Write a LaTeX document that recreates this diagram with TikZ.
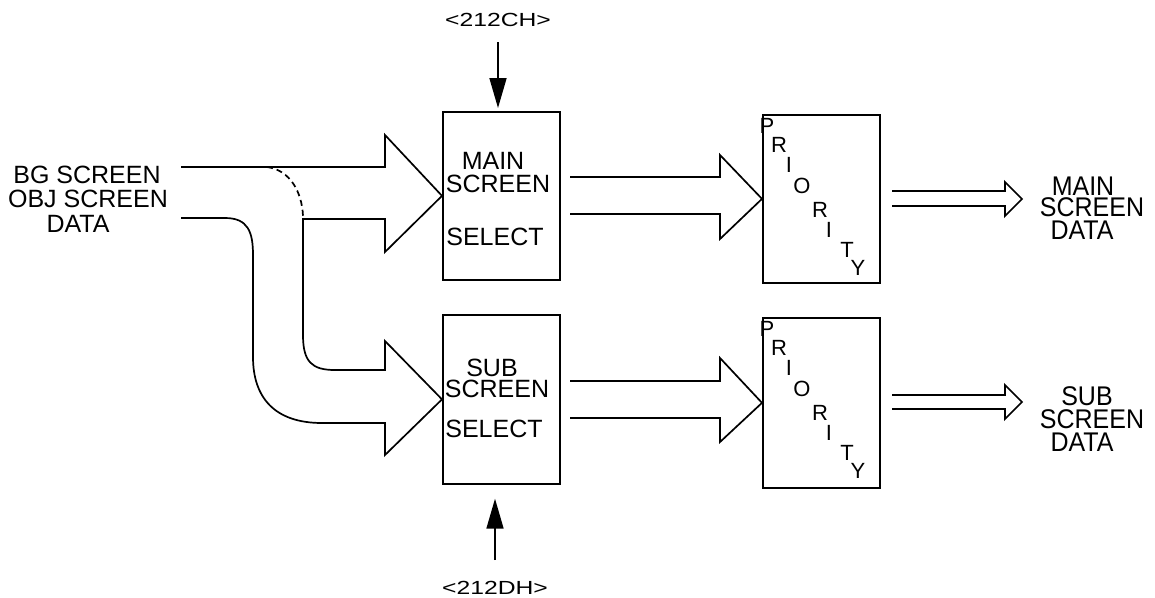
\documentclass[tikz,border=0pt]{standalone}
\usepackage{fontspec}
\setmainfont{Liberation Sans}
\usetikzlibrary{arrows.meta}
\newcommand{\widetxt}[1]{\scalebox{1.3}[1]{#1}}
\newcommand{\tallrtxt}[1]{\scalebox{1}[1.08]{#1}}
\begin{document}
\begin{tikzpicture}[x=1pt,y=-1pt,
  ln/.style={line width=1.7pt, line join=miter},
  box/.style={draw, line width=1.7pt, minimum width=117pt, inner sep=0pt, anchor=north west},
  txt/.style={inner sep=0pt, anchor=base, font=\fontsize{25}{25}\selectfont},
  rtxt/.style={inner sep=0pt, anchor=base, font=\fontsize{25}{25}\selectfont},
  ptxt/.style={inner sep=0pt, anchor=base, font=\fontsize{22}{22}\selectfont},
  htxt/.style={inner sep=0pt, anchor=base, font=\fontsize{19}{19}\selectfont},
  ctl/.style={line width=1.7pt, -{Triangle[length=30pt,width=17pt]}}
]
\useasboundingbox (0,0) rectangle (1155,597);

% boxes
\node[box, minimum height=168pt] (msel) at (442,111) {};
\node[box, minimum height=169pt] (ssel) at (442,314) {};
\node[box, minimum height=168pt] (mpri) at (762,114) {};
\node[box, minimum height=170pt] (spri) at (762,317) {};

% left input text
\node[txt] (in1) at (87,183) {BG SCREEN};
\node[txt] (in2) at (88,207) {OBJ SCREEN};
\node[txt] (in3) at (78,232) {DATA};

% select box text
\node[txt] (ms1) at (493,169) {MAIN};
\node[txt] (ms2) at (498,192) {SCREEN};
\node[txt] (ms3) at (495,245) {SELECT};
\node[txt] (ss1) at (492,376) {SUB};
\node[txt] (ss2) at (497,397) {SCREEN};
\node[txt] (ss3) at (494,437) {SELECT};

% register labels
\node[htxt] (ch) at (498,26) {\widetxt{<212CH>}};
\node[htxt] (dh) at (495,594) {\widetxt{<212DH>}};
\coordinate (cht) at (498,42);
\coordinate (dht) at (495,560);
\draw[ctl, shorten >=3pt] (cht) -- (cht |- msel.north);
\draw[ctl, shorten >=14pt] (dht) -- (dht |- ssel.south);

% priority letters
\foreach \dy/\nm in {0/m, 203/s}{
  \node[ptxt] (\nm p1) at (767,133+\dy) {P};
  \node[ptxt] (\nm p2) at (779,152+\dy) {R};
  \node[ptxt] (\nm p3) at (789,172+\dy) {I};
  \node[ptxt] (\nm p4) at (802,193+\dy) {O};
  \node[ptxt] (\nm p5) at (820,217+\dy) {R};
  \node[ptxt] (\nm p6) at (829,237+\dy) {I};
  \node[ptxt] (\nm p7) at (847,257+\dy) {T};
  \node[ptxt] (\nm p8) at (858,275+\dy) {Y};
}

% right output text
\node[rtxt] (mo1) at (1083,195) {\tallrtxt{MAIN}};
\node[rtxt] (mo2) at (1092,216) {\tallrtxt{SCREEN}};
\node[rtxt] (mo3) at (1082,239) {\tallrtxt{DATA}};
\node[rtxt] (so1) at (1087,405) {\tallrtxt{SUB}};
\node[rtxt] (so2) at (1092,428) {\tallrtxt{SCREEN}};
\node[rtxt] (so3) at (1082,451) {\tallrtxt{DATA}};

% big input bus arrows
\draw[ln] (181,167) -- (385,167) -- (385,135) -- (msel.west) -- (385,252) -- (385,219) -- (303,219)
  -- (303,335) .. controls (303,362) and (312,370) .. (335,370) -- (385,370) -- (385,341)
  -- (ssel.west) -- (385,455) -- (385,423) -- (322,423)
  .. controls (275,423) and (253,398) .. (253,357) -- (253,255)
  .. controls (253,232) and (248,218) .. (225,218) -- (181,218);
\draw[ln, dashed, dash pattern=on 6pt off 4pt] (267,167) .. controls (290,170) and (302,192) .. (303,216);

% select -> priority arrows
\draw[ln] (570,177) -- (720,177) -- (720,155) -- (mpri.west) -- (720,239) -- (720,214) -- (570,214);
\draw[ln] (570,381) -- (720,381) -- (720,358) -- (spri.west) -- (720,442) -- (720,418) -- (570,418);

% output arrows
\coordinate (mt) at (1022,199);
\coordinate (st) at (1022,402);
\draw[ln] (892,191) -- (1005,191) -- (1005,182) -- (mt) -- (1005,216) -- (1005,206) -- (892,206);
\draw[ln] (892,395) -- (1005,395) -- (1005,385) -- (st) -- (1005,419) -- (1005,409) -- (892,409);
\end{tikzpicture}
\end{document}
